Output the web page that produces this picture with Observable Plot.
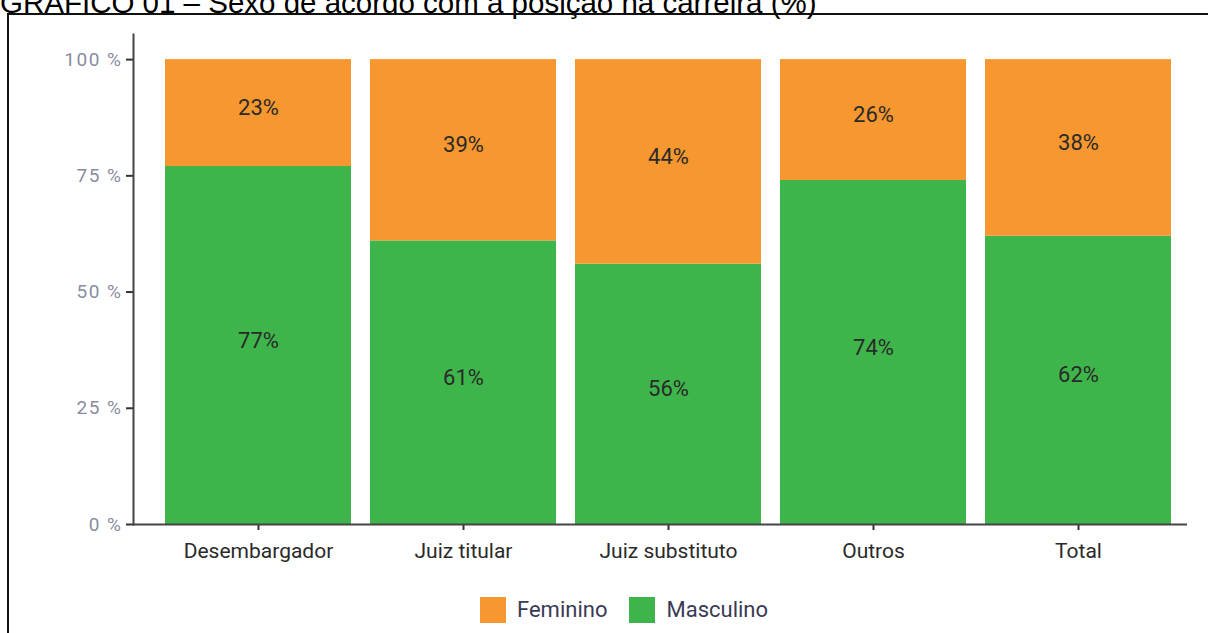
<!DOCTYPE html>
<html><head><meta charset="utf-8">
<script src="https://cdn.jsdelivr.net/npm/d3@7"></script>
<script src="https://cdn.jsdelivr.net/npm/@observablehq/plot@0.6"></script>
<style>
body{margin:0;background:#fff;width:1208px;height:633px;overflow:hidden;position:relative;font-family:"Liberation Sans",Arial,sans-serif;}
#title{position:absolute;left:0;top:-12px;font-size:29.5px;line-height:29.5px;color:#000;white-space:nowrap;}
#box{position:absolute;left:7px;top:13px;width:1300px;height:700px;border:2px solid #111;box-sizing:border-box;}
#chart{position:absolute;left:0;top:0;}
#legend{position:absolute;left:480px;top:593px;}
g[aria-label="y-axis tick label"] text{letter-spacing:1.5px;}
#legend span{margin-right:22px !important;}
</style></head><body>
<div id="title">GRÁFICO 01 – Sexo de acordo com a posição na carreira (%)</div>
<div id="box"></div>
<div id="chart"></div>
<div id="legend"></div>
<script>
const categories = ["Desembargador","Juiz titular","Juiz substituto","Outros","Total"];
const masculino = [77,61,56,74,62];
const feminino = [23,39,44,26,38];
const sexes = ["Feminino","Masculino"];
const colors = ["#F7972F","#3DB54A"];
const yTicks = [0,25,50,75,100];

const rows = [];
categories.forEach((c,i)=>{
  rows.push({cat:c, sexo:"Masculino", v:masculino[i]});
  rows.push({cat:c, sexo:"Feminino", v:feminino[i]});
});
const narrow = '"Liberation Sans Narrow","Roboto",sans-serif';

const plot = Plot.plot({
  width:1208, height:575, marginLeft:133, marginRight:21, marginTop:34, marginBottom:51,
  style:{fontFamily:narrow, background:"transparent", overflow:"visible"},
  x:{domain:categories, paddingInner:0.093, paddingOuter:0.117, align:0.667, label:null},
  y:{domain:[0,105.4], label:null},
  color:{domain:sexes, range:colors},
  marks:[
    Plot.barY(rows, Plot.stackY({x:"cat", y:"v", fill:"sexo"})),
    Plot.text(rows, Plot.stackY({x:"cat", y:"v", text:d=>d.v+"%", dy:-5, fontSize:22, fill:"#2a2a2a"})),
    Plot.axisY({ticks:yTicks, tickFormat:d=>d+" %", tickSize:7, tickPadding:4, fontSize:19, fill:"#8a8ca0", stroke:"#333", strokeWidth:2, label:null}),
    Plot.axisX({tickSize:6, tickPadding:13, fontSize:21, fill:"#2a2a2a", stroke:"#333", strokeWidth:2, label:null}),
    Plot.frame({anchor:"left", stroke:"#444", strokeWidth:2}),
    Plot.ruleY([0], {stroke:"#444", strokeWidth:2})
  ]
});
document.getElementById("chart").appendChild(plot);

const leg = Plot.legend({color:{domain:sexes, range:colors}, swatchSize:26, style:{fontFamily:narrow, fontSize:"22px", color:"#3a3a55"}});
document.getElementById("legend").appendChild(leg);
</script>
</body></html>
